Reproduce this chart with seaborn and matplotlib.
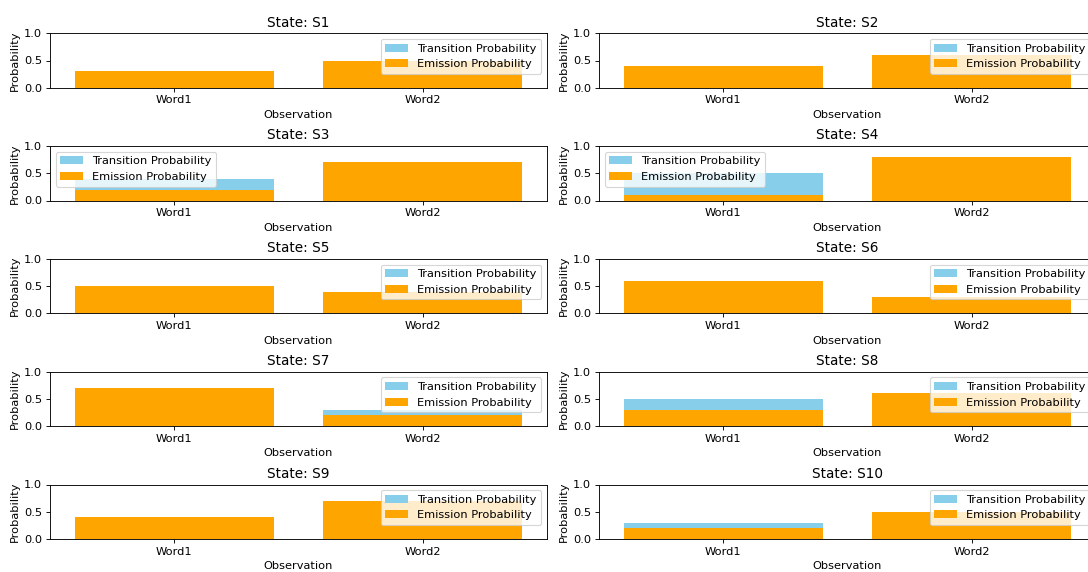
import matplotlib
matplotlib.use("Agg")
import matplotlib.pyplot as plt
import seaborn as sns
import pandas as pd

states = ["S1", "S2", "S3", "S4", "S5", "S6", "S7", "S8", "S9", "S10"]
observations = ["Word1", "Word2"]
transition_word1 = [0.2, 0.3, 0.4, 0.5, 0.4, 0.5, 0.6, 0.5, 0.3, 0.3]
transition_word2 = [0.4, 0.5, 0.6, 0.5, 0.3, 0.2, 0.3, 0.5, 0.6, 0.4]
emission_word1 = [0.3, 0.4, 0.2, 0.1, 0.5, 0.6, 0.7, 0.3, 0.4, 0.2]
emission_word2 = [0.5, 0.6, 0.7, 0.8, 0.4, 0.3, 0.2, 0.6, 0.7, 0.5]

legend_locs = ["upper right", "upper right", "upper left", "upper left", "upper right",
               "upper right", "upper right", "upper right", "upper right", "upper right"]

DPI = 80
plt.rcParams["font.size"] = 10.2
plt.rcParams["axes.titlesize"] = 12.3
plt.rcParams["axes.linewidth"] = 0.8

fig = plt.figure(figsize=(1088 / DPI, 572 / DPI), dpi=DPI)
W, H = 1088.0, 572.0
ax_w = 496.7
ax_h = 54.4
lefts = [50.0, 599.0]
tops = [33.3 + 112.8 * r for r in range(5)]

for i, st in enumerate(states):
    r, c = divmod(i, 2)
    ax = fig.add_axes([lefts[c] / W, 1 - (tops[r] + ax_h) / H, ax_w / W, ax_h / H])
    dft = pd.DataFrame({"Observation": observations,
                        "Probability": [transition_word1[i], transition_word2[i]]})
    dfe = pd.DataFrame({"Observation": observations,
                        "Probability": [emission_word1[i], emission_word2[i]]})
    sns.barplot(data=dft, x="Observation", y="Probability", color="skyblue",
                saturation=1, label="Transition Probability", ax=ax, width=0.8)
    sns.barplot(data=dfe, x="Observation", y="Probability", color="orange",
                saturation=1, label="Emission Probability", ax=ax, width=0.8)
    ax.set_ylim(0, 1)
    ax.set_yticks([0.0, 0.5, 1.0])
    ax.set_title(f"State: {st}")
    ax.set_xlabel("Observation")
    ax.set_ylabel("Probability")
    ax.legend(loc=legend_locs[i])

fig.savefig("out.png", dpi=DPI)
